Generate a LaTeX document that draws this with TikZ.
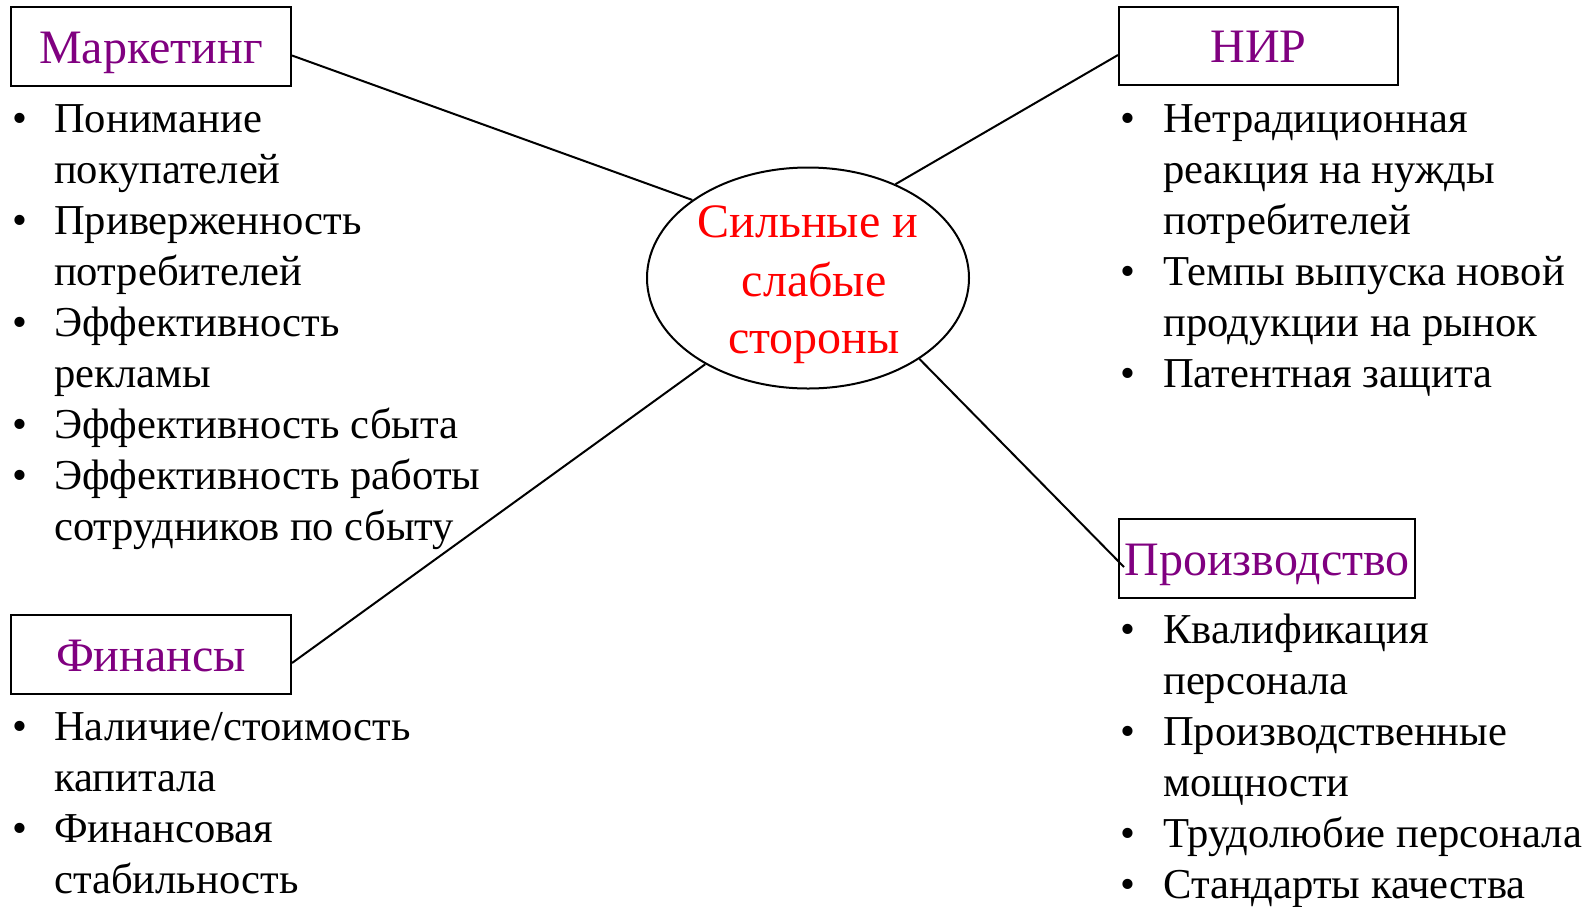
\documentclass[tikz,border=0pt]{standalone}
\usepackage{fontspec}
\setmainfont{Liberation Serif}
\usetikzlibrary{shapes.geometric}
\definecolor{hdr}{HTML}{800080}
\definecolor{ctr}{HTML}{FF0000}
\begin{document}
\begin{tikzpicture}[x=1pt,y=-1pt,
  box/.style={draw, line width=2pt, minimum height=79pt, inner sep=0pt, text=hdr,
    font=\fontsize{48}{57}\selectfont, text height=35pt, text depth=2pt},
  item/.style={anchor=base west, inner sep=0pt, font=\fontsize{42.6}{51}\selectfont},
  bul/.style={anchor=base, inner sep=0pt, font=\fontsize{42.6}{51}\selectfont},
  ctxt/.style={anchor=base, inner sep=0pt, text=ctr, font=\fontsize{48}{57}\selectfont},
  link/.style={line width=2pt},
]
\useasboundingbox[fill=white] (0,0) rectangle (1589,906);

% central ellipse
\node[draw, ellipse, line width=2pt, minimum width=322pt, minimum height=221pt, inner sep=0pt] (c) at (808,278) {};
\node[ctxt] (c1) at (808,237) {Сильные и};
\node[ctxt] (c2) at (814,296) {слабые};
\node[ctxt] (c3) at (814,353) {стороны};

% boxes
\node[box, minimum width=280pt] (mk) at (151,46.5) {Маркетинг};
\node[box, minimum width=280pt] (fin) at (151,654.5) {Финансы};
\node[box, minimum width=279pt, minimum height=78pt] (nir) at (1258.5,46) {НИР};
\node[box, minimum width=296pt] (pr) at (1267,558.5) {Производство};

% connectors
\draw[link] ([yshift=-9pt]mk.east) -- (c.146);
\draw[link] (c.47) -- ([yshift=-9pt]nir.west);
\draw[link] (c.220) -- ([yshift=-8.5pt]fin.east);
\draw[link] (c.-36) -- ([xshift=6pt,yshift=-8.5pt]pr.west);

% Marketing list
\node[bul] (mb1) at (20,132) {•}; \node[item] (m1) at (54,132) {Понимание};
\node[item] (m2) at (54,183) {покупателей};
\node[bul] (mb2) at (20,234) {•}; \node[item] (m3) at (54,234) {Приверженность};
\node[item] (m4) at (54,285) {потребителей};
\node[bul] (mb3) at (20,336) {•}; \node[item] (m5) at (54,336) {Эффективность};
\node[item] (m6) at (54,387) {рекламы};
\node[bul] (mb4) at (20,438) {•}; \node[item] (m7) at (54,438) {Эффективность сбыта};
\node[bul] (mb5) at (20,489) {•}; \node[item] (m8) at (54,489) {Эффективность работы};
\node[item] (m9) at (54,540) {сотрудников по сбыту};

% Finance list
\node[bul] (fb1) at (20,740) {•}; \node[item] (f1) at (54,740) {Наличие/стоимость};
\node[item] (f2) at (54,791) {капитала};
\node[bul] (fb2) at (20,842) {•}; \node[item] (f3) at (54,842) {Финансовая};
\node[item] (f4) at (54,893) {стабильность};

% NIR list
\node[bul] (nb1) at (1128,132) {•}; \node[item] (n1) at (1163,132) {Нетрадиционная};
\node[item] (n2) at (1163,183) {реакция на нужды};
\node[item] (n3) at (1163,234) {потребителей};
\node[bul] (nb2) at (1128,285) {•}; \node[item] (n4) at (1163,285) {Темпы выпуска новой};
\node[item] (n5) at (1163,336) {продукции на рынок};
\node[bul] (nb3) at (1128,387) {•}; \node[item] (n6) at (1163,387) {Патентная защита};

% Production list
\node[bul] (pb1) at (1128,643) {•}; \node[item] (p1) at (1163,643) {Квалификация};
\node[item] (p2) at (1163,694) {персонала};
\node[bul] (pb2) at (1128,745) {•}; \node[item] (p3) at (1163,745) {Производственные};
\node[item] (p4) at (1163,796) {мощности};
\node[bul] (pb3) at (1128,847) {•}; \node[item] (p5) at (1163,847) {Трудолюбие персонала};
\node[bul] (pb4) at (1128,898) {•}; \node[item] (p6) at (1163,898) {Стандарты качества};
\end{tikzpicture}
\end{document}
